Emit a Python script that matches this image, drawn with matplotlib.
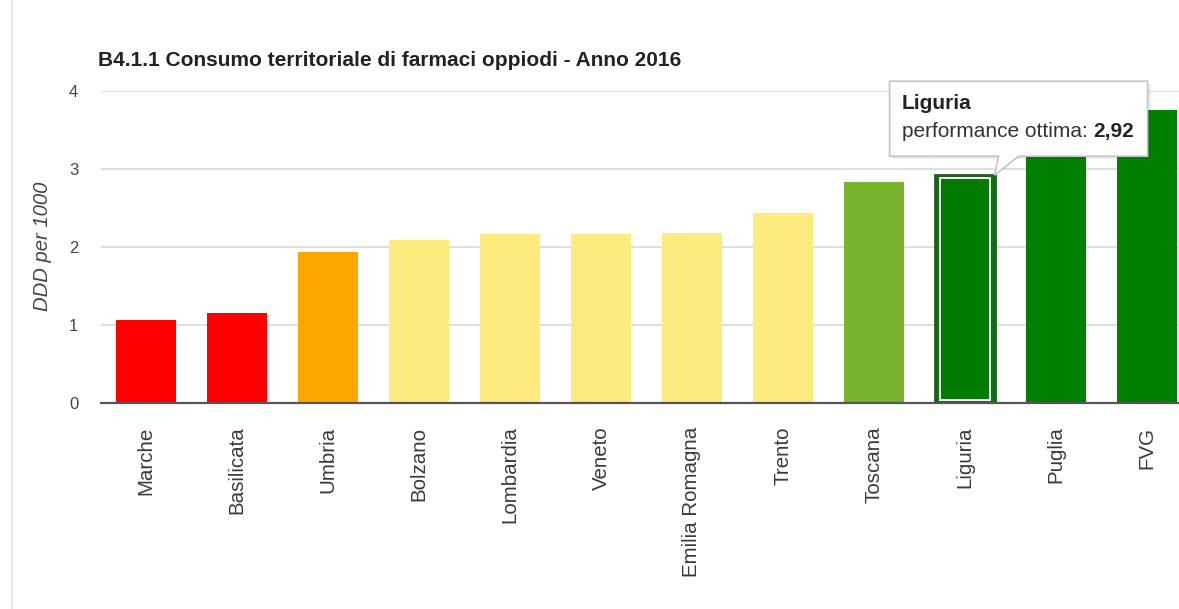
import matplotlib
matplotlib.use("Agg")
import matplotlib.pyplot as plt
from matplotlib.patches import Polygon, Rectangle
from matplotlib.lines import Line2D

plt.rcParams['font.family'] = ['Liberation Sans', 'DejaVu Sans']

categories = ["Marche", "Basilicata", "Umbria", "Bolzano", "Lombardia", "Veneto",
              "Emilia Romagna", "Trento", "Toscana", "Liguria", "Puglia", "FVG"]
values = [1.06, 1.15, 1.94, 2.09, 2.17, 2.17, 2.18, 2.44, 2.83, 2.92, 3.20, 3.76]
colors = ["#ff0000", "#ff0000", "#ffa500", "#fdec7d", "#fdec7d", "#fdec7d",
          "#fdec7d", "#fdec7d", "#78b42a", "#007d00", "#008000", "#008000"]
yticks = [0, 1, 2, 3, 4]
title = "B4.1.1 Consumo territoriale di farmaci oppiodi - Anno 2016"
ylabel = "DDD per 1000"
highlight = "Liguria"
tooltip_label = "performance ottima: "
tooltip_value = "2,92"

W, H = 1179, 609
fig = plt.figure(figsize=(W / 100, H / 100), dpi=100)
fig.patch.set_facecolor("white")

ax = fig.add_axes([100.5 / W, (H - 403) / H, 1092 / W, 312 / H])
ax.set_xlim(-0.5, len(categories) - 0.5)
ax.set_ylim(0, 4)

x = list(range(len(categories)))
bw = 0.65
bars = ax.bar(x, values, width=bw, color=colors, zorder=2)

hi = categories.index(highlight)
bars[hi].set_edgecolor("#1f5f1f")
bars[hi].set_linewidth(2)
ax.bar([hi], [values[hi] - 0.08], bottom=0.04, width=bw - 0.09,
       facecolor="none", edgecolor="white", linewidth=1.4, zorder=3)

ax.set_yticks(yticks)
ax.set_yticklabels([str(t) for t in yticks])
ax.yaxis.grid(True, color="#d9d9d9", linewidth=1.2, zorder=0)
ax.set_axisbelow(True)
for s in ["left", "right", "top"]:
    ax.spines[s].set_visible(False)
ax.spines["bottom"].set_color("#555555")
ax.spines["bottom"].set_linewidth(1.6)
ax.spines["bottom"].set_zorder(4)

ax.tick_params(axis="y", length=0, pad=16, labelsize=12, labelcolor="#444444")
ax.set_xticks(x)
ax.set_xticklabels(categories, rotation=90, fontsize=14.8, color="#3a3a3a")
ax.tick_params(axis="x", direction="in", length=5, width=1, color="#d0d0d0", pad=17)

fig.text(42 / W, 1 - 246 / H, ylabel, rotation=90, fontsize=14.6, style="italic",
         color="#444444", ha="center", va="center")
fig.text(98 / W, 1 - 60 / H, title, fontsize=15, fontweight="bold",
         color="#222222", ha="left", va="center")

# page border line
fig.add_artist(Line2D([12 / W, 12 / W], [0, 1], color="#e4e4e4", linewidth=1.2))

# tooltip anchored at top-right corner of the highlighted bar
fig.canvas.draw()
ax_px_x, ax_px_y = ax.transData.transform((hi + bw / 2, values[hi]))
def fp(dx, dy):
    return ((ax_px_x + dx) / W, (ax_px_y + dy) / H)

bl, br, bb, bt = -105, 153, 19, 94
shadow = Rectangle(fp(bl + 3, bb - 3), (br - bl) / W, (bt - bb) / H,
                   transform=fig.transFigure, facecolor="#000000", alpha=0.08,
                   edgecolor="none", zorder=5)
fig.add_artist(shadow)
box = Polygon([fp(bl, bb), fp(4, bb), fp(0, 0), fp(24, bb), fp(br, bb),
               fp(br, bt), fp(bl, bt)], closed=True, transform=fig.transFigure,
              facecolor="white", edgecolor="#c4c4c4", linewidth=1.2, zorder=6)
fig.add_artist(box)
p1 = fp(bl + 12, bt - 22)
fig.text(p1[0], p1[1], highlight, fontsize=15, fontweight="bold",
         color="#222222", ha="left", va="center", zorder=7)
p2 = fp(bl + 12, bt - 50)
t2 = fig.text(p2[0], p2[1], tooltip_label, fontsize=15, color="#333333",
              ha="left", va="center", zorder=7)
fig.canvas.draw()
bb2 = t2.get_window_extent()
fig.text(bb2.x1 / W, p2[1], tooltip_value, fontsize=15, fontweight="bold",
         color="#222222", ha="left", va="center", zorder=7)

fig.savefig("out.png", dpi=100, facecolor="white")
